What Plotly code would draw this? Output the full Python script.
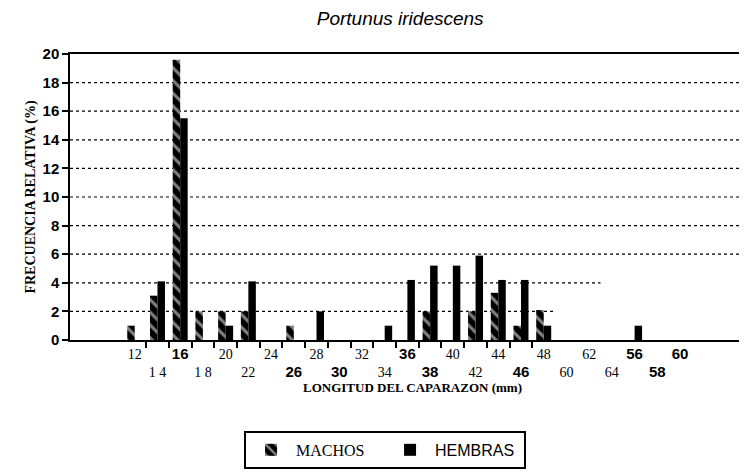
import plotly.graph_objects as go

# length classes (mm) and relative frequency (%)
LENGTH = [12, 14, 16, 18, 20, 22, 24, 26, 28, 30, 32, 34, 36,
          38, 40, 42, 44, 46, 48, 50, 52, 54, 56, 58, 60]
MACHOS = [1.0, 3.1, 19.6, 2.0, 2.0, 2.0, 0, 1.0, 0, 0, 0, 0, 0,
          2.0, 0, 2.0, 3.3, 1.0, 2.1, 0, 0, 0, 0, 0, 0]
HEMBRAS = [0, 4.1, 15.5, 0, 1.0, 4.1, 0, 0, 2.0, 0, 0, 1.0, 4.2,
           5.2, 5.2, 5.9, 4.2, 4.2, 1.0, 0, 0, 0, 1.0, 0, 0]

# tick labels as printed in the scan
TICK_TEXT = ["12", "1 4", "16", "1 8", "20", "22", "24", "26", "28", "30", "32", "34", "36",
             "38", "40", "42", "44", "46", "48", "60", "62", "64", "56", "58", "60"]
BOLD_CLASSES = [16, 26, 30, 36, 38, 46, 56, 58, 60]
MINOR_TICKS = list(range(13, 49, 2))

Y_TICKS = [0, 2, 4, 6, 8, 10, 12, 14, 16, 18, 20]
GRID_LEVELS = [2, 4, 6, 8, 10, 12, 14, 16, 18]
GRID_END = [49.0, 53.0, 67, 67, 67, 67, 67, 67, 67]

X_RANGE = [6.3, 66.6]

ticktext = []
for i, (v, t) in enumerate(zip(LENGTH, TICK_TEXT)):
    s = t
    if v in BOLD_CLASSES:
        s = f"<span style=\"font-family:'Liberation Sans';font-weight:bold;font-size:15px\">{t}</span>"
    if i % 2 == 1:
        s = "<br>" + s
    ticktext.append(s)

fig = go.Figure()
fig.add_trace(go.Bar(
    x=LENGTH, y=MACHOS, name="MACHOS",
    marker=dict(color="black", line=dict(width=0),
                pattern=dict(shape="\\", fgcolor="white", bgcolor="black",
                             size=9, solidity=0.35, fillmode="overlay")),
))
fig.add_trace(go.Bar(
    x=LENGTH, y=HEMBRAS,
    name="<span style=\"font-family:'Liberation Sans'\">HEMBRAS</span>",
    marker=dict(color="black", line=dict(width=0)),
))

for lvl, xe in zip(GRID_LEVELS, GRID_END):
    fig.add_shape(type="line", xref="x", yref="y", x0=X_RANGE[0], x1=min(xe, X_RANGE[1]), y0=lvl, y1=lvl,
                  line=dict(color="black", width=1.2, dash="dot"), layer="below")

fig.update_layout(
    width=747, height=472,
    margin=dict(l=62, r=0, t=46, b=140),
    paper_bgcolor="white",
    plot_bgcolor="white",
    barmode="group",
    bargap=0.34,
    bargroupgap=0,
    font=dict(family="Liberation Serif", color="black"),
    title=dict(text="<i>Portunus iridescens</i>", x=0.525, xanchor="center", y=0.978, yanchor="middle",
               font=dict(family="Liberation Sans", size=19, color="black")),
    showlegend=True,
    legend=dict(orientation="h", xref="container", yref="container", x=0.316, y=0.104,
                xanchor="left", yanchor="top", bordercolor="black", borderwidth=2,
                font=dict(family="Liberation Serif", size=16, color="black"),
                itemwidth=40, entrywidth=84),
    xaxis=dict(
        range=X_RANGE, tickmode="array", tickvals=LENGTH, ticktext=ticktext,
        ticks="", showgrid=False, zeroline=False,
        showline=True, linecolor="black", linewidth=2, mirror=True,
        tickfont=dict(family="Liberation Serif", size=14, color="black"),
        ticklabelstandoff=0,
        minor=dict(tickmode="array", tickvals=MINOR_TICKS, ticks="outside",
                   ticklen=6, tickwidth=2, tickcolor="black", showgrid=False),
        title=dict(text="<b>LONGITUD DEL CAPARAZON (mm)</b>", standoff=0,
                   font=dict(family="Liberation Serif", size=13, color="black")),
    ),
    yaxis=dict(
        range=[0, 20], tickmode="array", tickvals=Y_TICKS,
        ticks="outside", ticklen=6, tickwidth=1.5, tickcolor="black",
        showgrid=False, zeroline=False,
        showline=True, linecolor="black", linewidth=1.5,
        tickfont=dict(family="Liberation Sans", size=15, color="black", weight="bold"),
        title=dict(text="<b>FRECUENCIA RELATIVA (%)</b>", standoff=4,
                   font=dict(family="Liberation Serif", size=14, color="black")),
    ),
)

fig.write_html("out.html")
